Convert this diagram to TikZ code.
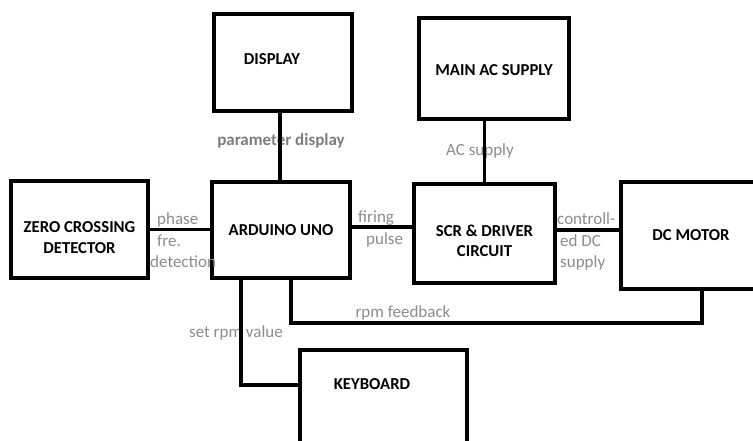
\documentclass[tikz,border=0pt]{standalone}
\usepackage{fontspec}
\setmainfont{Carlito}
\usepackage{tikz}
\usetikzlibrary{positioning}
\definecolor{lblgray}{RGB}{140,140,140}
\definecolor{paramgray}{RGB}{125,125,125}
\def\boxLw{4pt}
\def\wireLw{3.3pt}
\def\boxFont{\fontsize{16.7}{20.5}\selectfont\bfseries}

\begin{document}
\begin{tikzpicture}[
    x=1pt, y=-1pt,
    block/.style={draw, rectangle, line width=\boxLw, inner sep=0pt, align=center, font=\boxFont},
    blocktext/.style={inner sep=0pt, font=\boxFont},
    wire/.style={line width=\wireLw},
    lbl/.style={inner sep=0pt, text=lblgray, font=\fontsize{17}{21.5}\selectfont}
]
\useasboundingbox (0,0) rectangle (753,441);
\clip (0,0) rectangle (753,441);

% blocks
\node[block, minimum width=137, minimum height=97] (zcd) at (79.5,229.5) {\rule{0pt}{27pt}ZERO CROSSING\\DETECTOR};
\node[block, minimum width=138, minimum height=96] (ard) at (281,230) {ARDUINO UNO};
\node[block, minimum width=138, minimum height=97] (disp) at (283,62.5) {};
\node[blocktext] (disptext) at ([xshift=-11pt,yshift=3pt]disp.center) {DISPLAY};
\node[block, minimum width=150, minimum height=101] (ac) at (494,68.5) {\rule{0pt}{15pt}MAIN AC SUPPLY};
\node[block, minimum width=141, minimum height=99] (scr) at (484.5,233.5) {\rule{0pt}{26pt}SCR \& DRIVER\\CIRCUIT};
\node[block, minimum width=140, minimum height=107] (dc) at (691,235.5) {DC MOTOR};
\node[block, minimum width=167, minimum height=120] (kbd) at (383.5,410) {};
\node[blocktext] (kbdtext) at (372,384) {KEYBOARD};

% signal labels
\node[lbl, text=paramgray, font=\fontsize{17}{21.5}\selectfont\bfseries] (lparam) at (281,141) {parameter display};
\node[lbl] (lac) at (480,151) {AC supply};
\node[lbl, align=left, anchor=west] (lphase) at (150,240.5) {\hspace*{7pt}phase\\\hspace*{7pt}fre.\\detection};
\node[lbl, align=left, anchor=west] (lfire) at (358,229) {firing\\\hspace*{8pt}pulse};
\node[lbl, align=left, anchor=west] (lctrl) at (557,241.5) {controll-\\\hspace*{3pt}ed DC\\\hspace*{3pt}supply};
\node[lbl] (lfb) at (403,313) {rpm feedback};
\node[lbl] (lset) at (236,333) {set rpm value};

% connections
\draw[wire] (zcd.east) -- (zcd.east -| ard.west);
\draw[wire] ([yshift=3pt]ard.east) -- ([yshift=3pt]ard.east -| scr.west);
\draw[wire] ([yshift=3.5pt]scr.east) -- ([yshift=3.5pt]scr.east -| dc.west);
\draw[wire] ([xshift=-3pt]disp.south) -- ([xshift=-3pt]disp.south |- ard.north);
\draw[wire] (scr.north) -- (scr.north |- ac.south);
\coordinate (fb) at (291,323);
\draw[wire] (ard.south -| fb) -- (fb) -| ([xshift=11pt]dc.south);
\coordinate (kb) at (241,385);
\draw[wire] (ard.south -| kb) -- (kb) -- (kb -| kbd.west);
\end{tikzpicture}
\end{document}
